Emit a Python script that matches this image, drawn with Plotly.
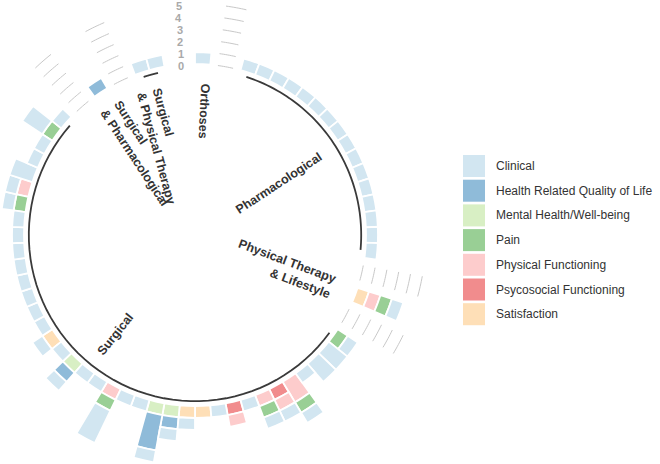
import math
import plotly.graph_objects as go

# ---------------- data ----------------
categories = ["Clinical", "Health Related Quality of Life", "Mental Health/Well-being",
              "Pain", "Physical Functioning", "Psycosocial Functioning", "Satisfaction"]

groups = ["Orthoses", "Pharmacological", "Physical Therapy & Lifestyle", "Surgical",
          "Surgical & Pharmacological", "Surgical & Physical Therapy"]
group_sizes = [1, 16, 1, 37, 1, 2]

# number of outcomes per bar, bars listed group by group
#            Orth  Pharmacological (16)                  PT&L
clinical = ([1] + [1, 1, 1, 1, 1, 1, 1, 1, 1, 1, 1, 1, 1, 1, 1, 1] + [1] +
            # Surgical (37)
            [1, 2, 2, 1, 1, 1, 1, 1, 0, 1,
             0, 1, 1, 1, 1, 1, 3, 1, 1, 1,
             1, 1, 1, 1, 1, 1, 1, 1, 1, 1,
             1, 1, 2, 1, 1, 2, 1] +
            [0] + [1, 1])
hrqol = ([0] + [0] * 16 + [0] +
         [0, 0, 0, 0, 0, 0, 0, 0, 0, 0,
          0, 0, 1, 3, 0, 0, 0, 0, 0, 1,
          0, 0, 0, 0, 0, 0, 0, 0, 0, 0,
          0, 0, 0, 0, 0, 0, 0] +
         [1] + [0, 0])
mental = ([0] + [0] * 16 + [0] +
          [0, 0, 0, 0, 0, 0, 0, 0, 0, 0,
           0, 0, 1, 1, 0, 0, 0, 0, 0, 1,
           0, 0, 0, 0, 0, 0, 0, 0, 0, 0,
           0, 0, 0, 0, 0, 0, 0] +
          [0] + [0, 0])
pain = ([0] + [0] * 16 + [1] +
        [1, 0, 0, 0, 1, 0, 1, 0, 0, 0,
         0, 0, 0, 0, 0, 0, 1, 0, 0, 0,
         0, 0, 0, 0, 0, 0, 0, 0, 0, 0,
         1, 0, 0, 0, 0, 1, 0] +
        [0] + [0, 0])
physical = ([0] + [0] * 16 + [1] +
            [0, 0, 0, 0, 2, 1, 1, 0, 1, 0,
             0, 0, 0, 0, 0, 0, 1, 0, 0, 0,
             0, 0, 0, 0, 0, 0, 0, 0, 0, 0,
             0, 1, 0, 0, 0, 0, 0] +
            [0] + [0, 0])
psychosocial = ([0] + [0] * 16 + [0] +
                [0, 0, 0, 0, 0, 1, 0, 0, 1, 0,
                 0, 0, 0, 0, 0, 0, 0, 0, 0, 0,
                 0, 0, 0, 0, 0, 0, 0, 0, 0, 0,
                 0, 0, 0, 0, 0, 0, 0] +
                [0] + [0, 0])
satisfaction = ([0] + [0] * 16 + [1] +
                [0, 0, 0, 0, 0, 0, 0, 0, 0, 0,
                 1, 1, 0, 0, 0, 0, 0, 0, 0, 0,
                 0, 1, 0, 0, 0, 0, 0, 0, 0, 0,
                 0, 0, 0, 0, 0, 0, 0] +
                [0] + [0, 0])
values = [clinical, hrqol, mental, pain, physical, psychosocial, satisfaction]
scale_ticks = [0, 1, 2, 3, 4, 5]

# ---------------- style ----------------
W, H = 660, 464
CX, CY, R = 195, 235, 195           # polar centre / outer radius in px
BASE_PX, UNIT_PX = 171, 12          # radius of value 0 and px per unit
base_rgb = [(166, 206, 227), (31, 120, 180), (178, 223, 138), (51, 160, 44),
            (251, 154, 153), (227, 26, 28), (253, 191, 111)]
colors = ["rgba(%d,%d,%d,0.5)" % c for c in base_rgb]
FONT = "Liberation Sans, Arial, sans-serif"
n_empty = 2

# slot ids (with 2 empty slots after every group)
ids, group_ids = [], []
pos = 1
for size in group_sizes:
    gi = list(range(pos, pos + size))
    ids.extend(gi)
    group_ids.append(gi)
    pos += size + n_empty
n_slots = pos - 1
slot_w = 360.0 / n_slots
theta = [(i - 0.5) * slot_w for i in ids]


def ang(i):
    return (i - 0.5) * slot_w


rmin = -BASE_PX / UNIT_PX
rmax = rmin + R / UNIT_PX

fig = go.Figure()

# stacked bars: first trace = innermost
for cat, col, vals in reversed(list(zip(categories, colors, values))):
    th = [t for t, v in zip(theta, vals) if v > 0]
    rr = [v for v in vals if v > 0]
    fig.add_trace(go.Barpolar(r=rr, theta=th, width=slot_w, name=cat,
                              marker=dict(color=col, line=dict(color="white", width=1.8)),
                              showlegend=False, hoverinfo="name+r"))

# group base arcs
ARC_R = -0.4
for gi in group_ids:
    if len(gi) < 2:
        continue
    t0, t1 = ang(gi[0]), ang(gi[-1])
    n = 60
    ts = [t0 + (t1 - t0) * k / n for k in range(n + 1)]
    fig.add_trace(go.Scatterpolar(r=[ARC_R] * len(ts), theta=ts, mode="lines",
                                  line=dict(color="#3a3a3a", width=1.8),
                                  hoverinfo="skip", showlegend=False))

# grid lines in the gaps between groups
gr, gt = [], []
for g in range(1, len(group_ids)):
    e = group_ids[g - 1][-1] + 1
    s = group_ids[g][0] - 1
    for v in scale_ticks:
        for k in range(9):
            gt.append(ang(e) + (ang(s) - ang(e)) * k / 8)
            gr.append(v)
        gt.append(None)
        gr.append(None)
fig.add_trace(go.Scatterpolar(r=gr, theta=gt, mode="lines",
                              line=dict(color="#c8c8c8", width=1),
                              hoverinfo="skip", showlegend=False, connectgaps=False))


def to_paper(theta_deg, r_px):
    t = math.radians(theta_deg)
    x = CX + r_px * math.sin(t)
    y = CY - r_px * math.cos(t)
    return x / W, 1 - y / H


annotations = []

# scale labels 0..5 in the last empty slot
for v in scale_ticks:
    x, y = to_paper(ang(n_slots), BASE_PX + UNIT_PX * v)
    annotations.append(dict(x=x, y=y, xref="paper", yref="paper", text=str(v), showarrow=False,
                            xanchor="right", yanchor="middle", xshift=-1, yshift=-1.5,
                            font=dict(family=FONT, size=11, color="#a9a9a9", weight="bold")))

# group labels (centre radius px, angle offset, reading inward/outward, alignment)
label_text = ["Orthoses", "Pharmacological", "Physical Therapy<br>& Lifestyle", "Surgical",
              "Surgical<br>& Pharmacological", "Surgical<br>& Physical Therapy"]
label_r = [124, 99, 96, 127, 98, 94]
label_dt = [1.4, 2.0, 0.0, 0.0, 0.0, -4.0]
label_inward = [True, False, False, True, True, True]
label_align = ["center", "center", "right", "center", "left", "left"]
for gi, txt, rp, dt, inward, al in zip(group_ids, label_text, label_r, label_dt,
                                       label_inward, label_align):
    mid = (ang(gi[0]) + ang(gi[-1])) / 2
    ta = mid + 90 if inward else mid - 90
    if ta > 180:
        ta -= 360
    x, y = to_paper(mid + dt, rp)
    annotations.append(dict(x=x, y=y, xref="paper", yref="paper", text=txt, showarrow=False,
                            textangle=ta, align=al, xanchor="center", yanchor="middle",
                            font=dict(family=FONT, size=12.5, color="#333333", weight="bold")))

# legend (drawn manually for large swatches)
shapes = []
LX0, LY0, LS, LSTEP = 463, 155, 22, 24.7
for i, (cat, col) in enumerate(zip(categories, colors)):
    top = LY0 + i * LSTEP
    shapes.append(dict(type="rect", xref="paper", yref="paper",
                       x0=LX0 / W, x1=(LX0 + LS) / W, y0=1 - (top + LS) / H, y1=1 - top / H,
                       fillcolor=col, line=dict(width=0)))
    annotations.append(dict(x=(LX0 + 31) / W, y=1 - (top + LS / 2) / H, xref="paper", yref="paper",
                            text=cat, showarrow=False, xanchor="left", yanchor="middle",
                            font=dict(family=FONT, size=12, color="#333333")))

fig.update_layout(
    width=W, height=H, margin=dict(l=0, r=0, t=0, b=0),
    paper_bgcolor="white", plot_bgcolor="white", showlegend=False,
    font=dict(family=FONT),
    polar=dict(
        domain=dict(x=[(CX - R) / W, (CX + R) / W], y=[1 - (CY + R) / H, 1 - (CY - R) / H]),
        bgcolor="rgba(0,0,0,0)", hole=0, barmode="stack", bargap=0,
        radialaxis=dict(range=[rmin, rmax], visible=False, showgrid=False, showline=False,
                        showticklabels=False, ticks=""),
        angularaxis=dict(direction="clockwise", rotation=90, visible=False, showgrid=False,
                         showline=False, showticklabels=False, ticks="", thetaunit="degrees"),
    ),
    annotations=annotations, shapes=shapes,
)

# page without body margin; bars taller than the polar frame must not be clipped
post_js = """
document.documentElement.style.margin = '0';
document.body.style.margin = '0';
document.body.style.overflow = 'hidden';
var gd = document.getElementById('{plot_id}');
function unclip() {
  gd.querySelectorAll('[clip-path]').forEach(function (el) { el.removeAttribute('clip-path'); });
}
unclip();
gd.on('plotly_afterplot', unclip);
"""
fig.write_html("out.html", post_script=post_js, config={"displayModeBar": False})
